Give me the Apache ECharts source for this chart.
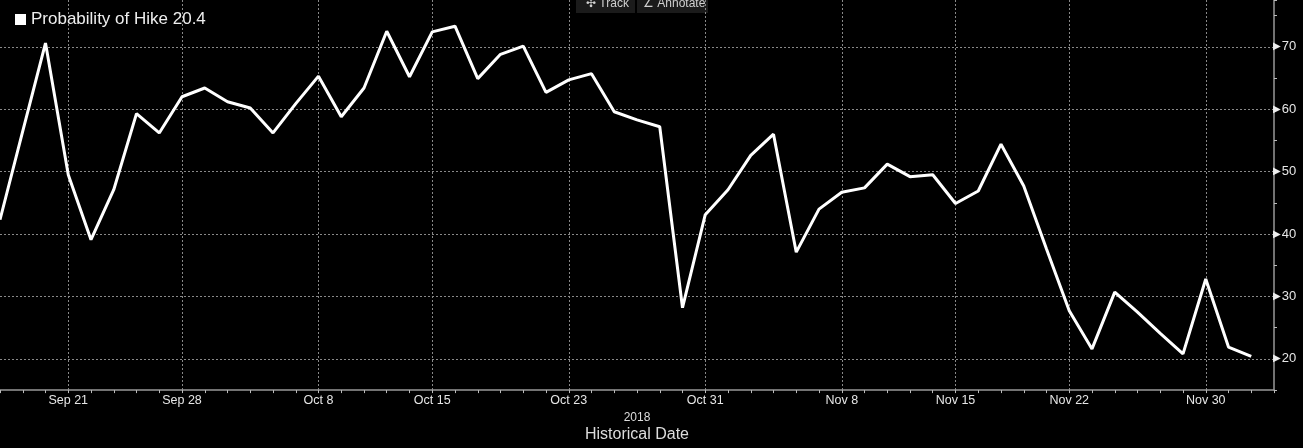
<!DOCTYPE html>
<html>
<head>
<meta charset="utf-8">
<script src="https://cdn.jsdelivr.net/npm/echarts@6/dist/echarts.min.js"></script>
<style>
  html, body { margin: 0; padding: 0; background: #000; }
  #chart { width: 1303px; height: 448px; }
</style>
</head>
<body>
<div id="chart"></div>
<script>
// business days, Sep 18 .. Dec 5 2018
const DATES = [
  "Sep 18", "Sep 19", "Sep 20", "Sep 21",
  "Sep 24", "Sep 25", "Sep 26", "Sep 27", "Sep 28",
  "Oct 1", "Oct 2", "Oct 3", "Oct 4", "Oct 5",
  "Oct 8", "Oct 9", "Oct 10", "Oct 11", "Oct 12",
  "Oct 15", "Oct 16", "Oct 17", "Oct 18", "Oct 19",
  "Oct 22", "Oct 23", "Oct 24", "Oct 25", "Oct 26",
  "Oct 29", "Oct 30", "Oct 31", "Nov 1", "Nov 2",
  "Nov 5", "Nov 6", "Nov 7", "Nov 8", "Nov 9",
  "Nov 12", "Nov 13", "Nov 14", "Nov 15", "Nov 16",
  "Nov 19", "Nov 20", "Nov 21", "Nov 22", "Nov 23",
  "Nov 26", "Nov 27", "Nov 28", "Nov 29", "Nov 30",
  "Dec 3", "Dec 4", "Dec 5",
];

// probability of hike (%)
const HIKE = [
  42.3, 56.5, 70.6, 49.5,
  39.1, 47.1, 59.3, 56.2, 62.0,
  63.4, 61.2, 60.2, 56.2, 60.9,
  65.3, 58.8, 63.4, 72.5, 65.2,
  72.4, 73.3, 64.9, 68.8, 70.1,
  62.7, 64.7, 65.7, 59.6, 58.3,
  57.2, 28.2, 43.1, 47.1, 52.6,
  56.0, 37.1, 44.0, 46.7, 47.4,
  51.2, 49.2, 49.5, 44.9, 46.9,
  54.4, 47.7, 37.6, 27.7, 21.6,
  30.7, 27.5, 24.1, 20.8, 32.8,
  21.9, 20.4,
];

const LABELED_DATES = ["Sep 21", "Sep 28", "Oct 8", "Oct 15", "Oct 23", "Oct 31", "Nov 8", "Nov 15", "Nov 22", "Nov 30"];
const SERIES_NAME = "Probability of Hike";

const AXIS_FONT = "Liberation Sans";
const isLabeled = (idx) => LABELED_DATES.includes(DATES[idx]);

const chart = echarts.init(document.getElementById("chart"));
const last = HIKE[HIKE.length - 1];

chart.setOption({
  animation: false,
  backgroundColor: "#000",
  grid: { left: 0, right: 29, top: 0, bottom: 57 },
  legend: {
    left: 10,
    top: 6,
    icon: "rect",
    itemWidth: 11,
    itemHeight: 11,
    itemGap: 4,
    formatter: (name) => `${name} ${last}`,
    textStyle: { color: "#eee", fontSize: 17, fontFamily: AXIS_FONT },
    data: [SERIES_NAME],
  },
  xAxis: {
    type: "category",
    data: DATES,
    boundaryGap: false,
    axisLine: { lineStyle: { color: "#999", width: 1.5 } },
    axisTick: { interval: 0, length: 3, lineStyle: { color: "#bbb" } },
    axisLabel: {
      interval: (idx) => isLabeled(idx),
      color: "#e6e6e6",
      fontSize: 12.5,
      fontFamily: AXIS_FONT,
      margin: 4,
    },
    splitLine: {
      show: true,
      interval: (idx) => isLabeled(idx),
      lineStyle: { color: "#888", type: [2, 2] },
    },
    name: "{a|2018}\n{b|Historical Date}",
    nameLocation: "middle",
    nameGap: 16,
    nameTextStyle: {
      rich: {
        a: { color: "#ddd", fontSize: 12, fontFamily: AXIS_FONT, lineHeight: 14, align: "center" },
        b: { color: "#ddd", fontSize: 16, fontFamily: AXIS_FONT, lineHeight: 20, align: "center" },
      },
    },
  },
  yAxis: {
    type: "value",
    position: "right",
    min: 15,
    max: 77.5,
    interval: 5,
    axisLine: { show: true, lineStyle: { color: "#999", width: 1.5 } },
    axisTick: { show: true, length: 3, lineStyle: { color: "#bbb" } },
    axisLabel: {
      margin: -1,
      formatter: (v) => (v % 10 === 0 ? `{t|▶}{v|${v}}` : ""),
      rich: {
        t: { color: "#eee", fontSize: 10, fontFamily: "DejaVu Sans" },
        v: { color: "#e6e6e6", fontSize: 13, fontFamily: AXIS_FONT, padding: [0, 0, 0, 1] },
      },
    },
    splitLine: {
      show: true,
      showMaxLine: false,
      lineStyle: { color: ["rgba(0,0,0,0)", "#888"], type: [2, 2] },
    },
  },
  graphic: [
    { type: "rect", left: 576, top: -2, shape: { width: 59, height: 15 }, style: { fill: "#1b1b1b" } },
    { type: "rect", left: 637, top: -2, shape: { width: 71, height: 15 }, style: { fill: "#1b1b1b" } },
    { type: "text", left: 586, top: -2, style: { text: "✣ Track", fill: "#d0d0d0", font: `12px ${AXIS_FONT}` } },
    { type: "text", left: 643, top: -2, style: { text: "∠ Annotate", fill: "#d0d0d0", font: `12px ${AXIS_FONT}` } },
  ],
  series: [
    {
      name: SERIES_NAME,
      type: "line",
      data: HIKE,
      showSymbol: false,
      symbol: "none",
      itemStyle: { color: "#fff" },
      lineStyle: { color: "#fff", width: 3 },
    },
  ],
});
</script>
</body>
</html>
